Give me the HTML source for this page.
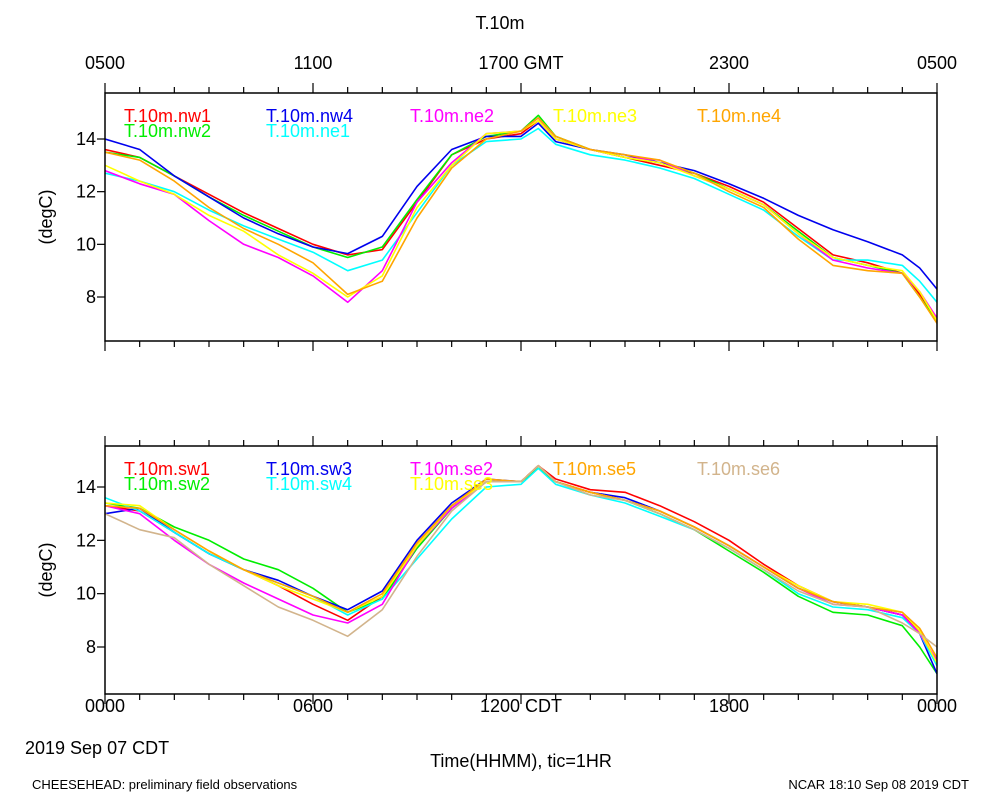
<!DOCTYPE html>
<html><head><meta charset="utf-8"><style>
body{margin:0;background:#fff;}
svg{display:block;font-family:"Liberation Sans",sans-serif;}
</style></head><body>
<svg id="chart" width="1000" height="800" viewBox="0 0 1000 800"></svg>
<script>
const hours = [0,1,2,3,4,5,6,7,8,9,10,11,12,12.5,13,14,15,16,17,18,19,20,21,22,23,23.5,24];
const yTicks = [8,10,12,14];
const topTickLabels = ["0500","1100","1700 GMT","2300","0500"];
const bottomTickLabels = ["0000","0600","1200 CDT","1800","0000"];

const nw1 = [13.6,13.3,12.6,11.9,11.2,10.6,10.0,9.6,9.8,11.6,13.4,14.0,14.2,14.7,14.0,13.6,13.3,13.0,12.7,12.2,11.6,10.6,9.6,9.3,8.9,8.1,7.2];
const nw2 = [13.5,13.3,12.6,11.8,11.1,10.5,9.9,9.5,9.9,11.7,13.4,14.1,14.3,14.9,14.1,13.6,13.3,13.1,12.7,12.1,11.5,10.5,9.5,9.2,8.9,8.0,7.1];
const nw4 = [14.0,13.6,12.6,11.8,11.0,10.4,9.9,9.65,10.3,12.2,13.6,14.1,14.1,14.6,13.9,13.6,13.4,13.1,12.8,12.3,11.75,11.1,10.55,10.1,9.6,9.1,8.3];
const ne1 = [12.7,12.4,12.0,11.3,10.7,10.2,9.7,9.0,9.4,11.2,13.0,13.9,14.0,14.4,13.8,13.4,13.2,12.9,12.5,11.9,11.3,10.3,9.4,9.4,9.2,8.6,7.8];
const ne2 = [12.8,12.3,11.9,10.9,10.0,9.5,8.8,7.8,9.0,11.6,13.1,14.2,14.3,14.8,14.0,13.6,13.3,13.2,12.6,12.1,11.5,10.4,9.4,9.1,8.9,8.2,7.2];
const ne3 = [13.0,12.4,11.9,11.1,10.5,9.6,8.9,8.0,8.8,11.4,13.0,14.2,14.3,14.7,14.0,13.6,13.3,13.1,12.6,12.1,11.5,10.4,9.5,9.2,9.0,8.2,7.1];
const ne4 = [13.5,13.2,12.4,11.4,10.6,10.0,9.3,8.1,8.6,11.0,12.9,14.0,14.3,14.8,14.1,13.6,13.4,13.2,12.7,12.0,11.4,10.2,9.2,9.0,8.9,8.0,7.0];

const sw1 = [13.3,13.1,12.3,11.5,10.9,10.3,9.6,9.0,9.9,11.9,13.3,14.2,14.2,14.8,14.3,13.9,13.8,13.3,12.7,12.0,11.1,10.3,9.7,9.5,9.2,8.6,7.4];
const sw2 = [13.4,13.2,12.5,12.0,11.3,10.9,10.2,9.3,9.8,11.7,13.2,14.2,14.2,14.7,14.2,13.8,13.5,13.0,12.4,11.6,10.8,9.9,9.3,9.2,8.8,8.0,7.0];
const sw3 = [13.0,13.2,12.3,11.5,10.9,10.5,9.9,9.4,10.1,12.0,13.4,14.3,14.2,14.8,14.2,13.8,13.6,13.1,12.5,11.8,11.0,10.2,9.7,9.5,9.2,8.5,7.0];
const sw4 = [13.6,13.1,12.3,11.5,10.9,10.4,9.9,9.2,9.8,11.3,12.8,14.0,14.1,14.7,14.1,13.7,13.4,12.9,12.4,11.7,10.9,10.0,9.5,9.4,9.1,8.5,7.3];
const se2 = [13.3,13.0,12.0,11.1,10.4,9.8,9.2,8.9,9.6,11.8,13.2,14.2,14.2,14.8,14.2,13.8,13.5,13.1,12.5,11.8,11.0,10.2,9.6,9.5,9.2,8.5,7.5];
const se3 = [13.4,13.3,12.4,11.6,10.9,10.3,9.8,9.3,9.9,11.8,13.3,14.2,14.2,14.8,14.2,13.8,13.5,13.1,12.5,11.8,11.0,10.3,9.7,9.6,9.3,8.6,7.4];
const se5 = [13.3,13.2,12.4,11.6,10.9,10.4,9.9,9.3,10.0,11.9,13.3,14.3,14.2,14.8,14.2,13.8,13.5,13.1,12.5,11.8,11.0,10.2,9.7,9.5,9.3,8.7,7.6];
const se6 = [13.0,12.4,12.1,11.1,10.3,9.5,9.0,8.4,9.4,11.4,13.1,14.2,14.2,14.8,14.2,13.7,13.5,13.0,12.4,11.7,10.9,10.1,9.6,9.5,8.9,8.5,8.0];

const NS='http://www.w3.org/2000/svg';
const svg=document.getElementById('chart');
function el(tag,attrs,parent){const e=document.createElementNS(NS,tag);for(const k in attrs)e.setAttribute(k,attrs[k]);(parent||svg).appendChild(e);return e;}
function txt(s,x,y,attrs,name,parent){const t=el('text',Object.assign({x:x,y:y,'font-size':18,fill:'#000'},attrs||{}),parent);t.textContent=s;


return t;}

const X0=105,X1=937;
function xs(h){return X0+(X1-X0)*h/24;}

function panel(name,top,bot,y14,y8,series,legend,labelsTop,labelsBot){
  const g=el('g',{});
  
  
  const ys=v=>y14+(v-14)*(y8-y14)/(-6);
  const cp=el('clipPath',{id:'cp-'+name},g);
  el('rect',{x:X0,y:top,width:X1-X0,height:bot-top},cp);
  const lg=el('g',{'clip-path':'url(#cp-'+name+')'},g);
  series.forEach(s=>{
    const d=hours.map((h,i)=>(i?'L':'M')+xs(h).toFixed(1)+','+ys(s.v[i]).toFixed(1)).join(' ');
    const p=el('path',{d:d,fill:'none',stroke:s.c,'stroke-width':1.6,'stroke-linejoin':'round'},lg);
    
    
  });
  const fr=el('rect',{x:X0,y:top,width:X1-X0,height:bot-top,fill:'none',stroke:'#000','stroke-width':1.5},g);
  
  
  for(let h=0;h<=24;h++){const x=xs(h);const L=(h%6===0)?10:6;
    el('line',{x1:x,y1:top,x2:x,y2:top-L,stroke:'#000','stroke-width':1.2},g);
    el('line',{x1:x,y1:bot,x2:x,y2:bot+L,stroke:'#000','stroke-width':1.2},g);}
  yTicks.forEach(v=>{const y=ys(v);
    el('line',{x1:X0,y1:y,x2:X0-8,y2:y,stroke:'#000','stroke-width':1.2},g);
    txt(String(v),96,y+6,{'text-anchor':'end'},'y-tick-label',g);});
  txt('(degC)',0,0,{'text-anchor':'middle',transform:'translate(52,'+((top+bot)/2)+') rotate(-90)'},'y-axis-title',g);
  legend.forEach(l=>{txt('T.10m.'+l.n,l.x,l.y,{fill:l.c},'legend-entry-'+l.n,g);});
  if(labelsTop) labelsTop.forEach((s,i)=>txt(s,xs(i*6),69,{'text-anchor':'middle'},'top-x-tick-label',g));
  if(labelsBot) labelsBot.forEach((s,i)=>txt(s,xs(i*6),712,{'text-anchor':'middle'},'x-tick-label',g));
}

const C={red:'#ff0000',green:'#00ee00',blue:'#0000ee',cyan:'#00ffff',mag:'#ff00ff',yel:'#ffff00',org:'#ffa500',tan:'#d2b48c'};
panel('top-panel',93,341,139,297,[
  {n:'nw1',v:nw1,c:C.red},{n:'nw2',v:nw2,c:C.green},{n:'nw4',v:nw4,c:C.blue},{n:'ne1',v:ne1,c:C.cyan},
  {n:'ne2',v:ne2,c:C.mag},{n:'ne3',v:ne3,c:C.yel},{n:'ne4',v:ne4,c:C.org}],
  [{n:'nw1',x:124,y:122,c:C.red},{n:'nw4',x:266,y:122,c:C.blue},{n:'ne2',x:410,y:122,c:C.mag},{n:'ne3',x:553,y:122,c:C.yel},{n:'ne4',x:697,y:122,c:C.org},
   {n:'nw2',x:124,y:137,c:C.green},{n:'ne1',x:266,y:137,c:C.cyan}],topTickLabels,null);
panel('bottom-panel',446,694,487,647,[
  {n:'sw1',v:sw1,c:C.red},{n:'sw2',v:sw2,c:C.green},{n:'sw3',v:sw3,c:C.blue},{n:'sw4',v:sw4,c:C.cyan},
  {n:'se2',v:se2,c:C.mag},{n:'se3',v:se3,c:C.yel},{n:'se5',v:se5,c:C.org},{n:'se6',v:se6,c:C.tan}],
  [{n:'sw1',x:124,y:475,c:C.red},{n:'sw3',x:266,y:475,c:C.blue},{n:'se2',x:410,y:475,c:C.mag},{n:'se5',x:553,y:475,c:C.org},{n:'se6',x:697,y:475,c:C.tan},
   {n:'sw2',x:124,y:490,c:C.green},{n:'sw4',x:266,y:490,c:C.cyan},{n:'se3',x:410,y:490,c:C.yel}],null,bottomTickLabels);

txt('T.10m',500,29,{'text-anchor':'middle'},'chart-title');
txt('2019 Sep 07 CDT',25,754,{},'date-label');
txt('Time(HHMM), tic=1HR',521,767,{'text-anchor':'middle'},'x-axis-title');
txt('CHEESEHEAD: preliminary field observations',32,789,{'font-size':13},'footer-left');
txt('NCAR 18:10 Sep 08 2019 CDT',969,789,{'font-size':13,'text-anchor':'end'},'footer-right');
</script>
</body></html>
